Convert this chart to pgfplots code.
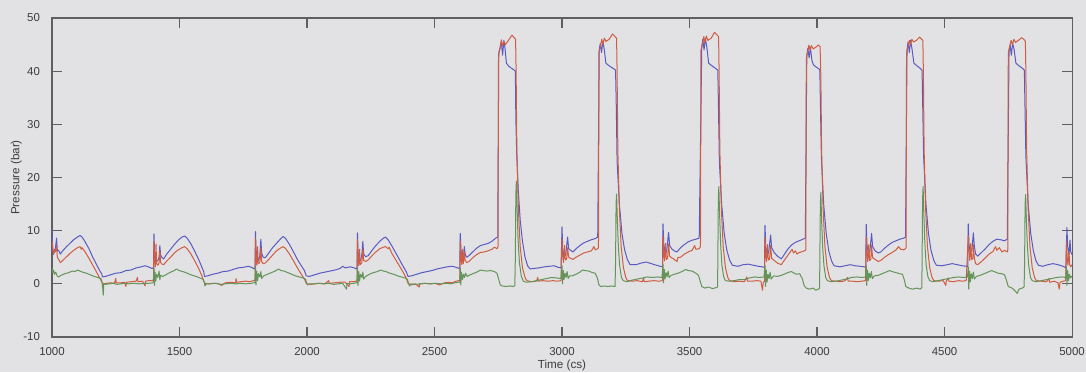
\documentclass[border=0pt]{standalone}
\usepackage{pgfplots}
\pgfplotsset{compat=1.18}
\usepackage{fontspec}
\setmainfont{Liberation Sans}
\definecolor{bggray}{RGB}{226,226,228}
\definecolor{axgray}{RGB}{95,95,95}
\definecolor{txtgray}{RGB}{60,60,60}
\definecolor{pblue}{RGB}{90,90,195}
\definecolor{pred}{RGB}{208,92,66}
\definecolor{pgreen}{RGB}{100,148,90}
\begin{document}
\begin{tikzpicture}
\fill[bggray] (-0.766cm,-0.516cm) rectangle (15.234cm,4.965cm);
\useasboundingbox (-0.766cm,-0.516cm) rectangle (15.234cm,4.965cm);
\begin{axis}[
  at={(0,0)}, anchor=south west,
  scale only axis, width=15.028cm, height=4.70cm,
  xmin=1000, xmax=5000, ymin=-10, ymax=50,
  xtick={1000,1500,...,5000}, ytick={-10,0,...,50},
  tick align=inside, major tick length=4.2pt,
  axis line style={axgray, line width=0.45pt},
  every tick/.style={axgray, line width=0.45pt},
  axis background/.style={fill=bggray},
  /pgf/number format/assume math mode=true,
  /pgf/number format/set thousands separator={},
  tick label style={font=\fontsize{4.8}{5.5}\selectfont, text=txtgray},
  xticklabel style={yshift=-0.8pt},
  yticklabel style={xshift=-1.5pt},
  label style={font=\fontsize{4.9}{5.5}\selectfont, text=txtgray},
  xlabel={Time (cs)}, ylabel={Pressure (bar)},
  xlabel style={at={(axis description cs:0.5,-0.088)}, anchor=center},
  ylabel style={at={(axis description cs:-0.035,0.5)}, anchor=center},
  every axis plot/.append style={line width=0.42pt, line join=round},
]
% inlet pressure
\addplot[pblue] coordinates {
(1000,10.3) (1003,6.0) (1008,5.8) (1013,6.5) (1018,8.6) (1021,6.2) (1026,6.3) (1033,5.6) (1040,6.1) (1055,6.9) (1070,7.6) (1085,8.3) (1100,8.8) (1110,9.1) (1118,8.8) (1130,7.9) (1145,6.6) (1160,5.0) (1175,3.6) (1188,2.4) (1195,1.9) (1198,1.3)
(1210,1.4) (1230,1.7) (1250,2.0) (1270,2.1) (1290,2.5) (1310,2.6) (1330,3.0) (1350,3.2) (1365,3.4) (1378,3.2) (1392,2.9)
(1398,3.0) (1400,9.4) (1402,6.0) (1405,4.8) (1410,4.2) (1416,4.5) (1420,5.0) (1423,7.2) (1426,5.4) (1432,4.9) (1438,4.7) (1450,5.6) (1465,6.5) (1480,7.4) (1495,8.2) (1510,8.8) (1520,9.0) (1530,8.6) (1545,7.5) (1560,6.1) (1575,4.6) (1588,3.1) (1595,2.3) (1598,1.4)
(1610,1.5) (1630,1.8) (1650,2.0) (1670,2.3) (1690,2.4) (1710,2.7) (1730,3.0) (1750,3.1) (1770,3.3) (1783,3.1) (1793,2.8)
(1796,3.0) (1798,9.8) (1800,6.5) (1804,5.0) (1810,4.4) (1815,5.2) (1819,8.4) (1822,5.8) (1828,5.0) (1836,4.9) (1850,5.8) (1865,6.8) (1880,7.6) (1895,8.4) (1906,8.9) (1915,8.6) (1930,7.5) (1945,6.2) (1960,4.8) (1975,3.6) (1990,2.5) (1997,1.5)
(2010,1.4) (2030,1.7) (2050,2.0) (2070,2.2) (2090,2.4) (2110,2.6) (2130,2.9) (2140,3.3) (2150,3.0) (2170,3.2) (2185,3.0) (2193,2.8)
(2196,3.0) (2198,9.6) (2200,6.0) (2204,4.8) (2210,4.4) (2215,5.4) (2219,8.0) (2222,5.6) (2230,5.1) (2240,5.3) (2255,6.3) (2270,7.2) (2285,8.0) (2300,8.6) (2308,8.8) (2318,8.3) (2332,7.2) (2347,5.9) (2362,4.6) (2377,3.3) (2390,2.2) (2396,1.4)
(2410,1.5) (2430,1.8) (2450,2.1) (2470,2.3) (2490,2.5) (2510,2.8) (2530,3.0) (2550,3.2) (2570,3.3) (2585,3.1) (2596,2.9)
(2599,3.1) (2601,9.5) (2604,6.2) (2608,5.0) (2613,4.9) (2617,7.0) (2620,5.6) (2626,5.0) (2635,5.3) (2650,6.0) (2665,6.7) (2680,7.2) (2695,7.4) (2710,7.6) (2725,8.0) (2740,8.6) (2748,8.8)
(2752,43.5) (2756,44.2) (2762,45.5) (2767,43.0) (2772,45.8) (2776,44.5) (2782,41.5) (2790,41.0) (2800,40.6) (2810,40.3) (2817,40.0) (2819,31) (2822,25) (2828,18) (2836,12.0) (2845,8.0) (2855,5.0) (2865,3.4) (2875,2.8)
(2890,2.9) (2910,3.0) (2930,3.2) (2950,3.3) (2970,3.4) (2985,3.1) (2996,3.0)
(3000,10.7) (3003,6.5) (3008,5.2) (3014,5.4) (3022,8.8) (3026,6.6) (3034,6.3) (3043,6.0) (3055,6.6) (3070,7.2) (3085,7.7) (3100,8.0) (3115,8.3) (3130,8.5) (3140,8.8)
(3146,44.0) (3150,45.2) (3155,43.5) (3160,45.6) (3166,44.0) (3172,41.5) (3185,41.0) (3198,40.6) (3210,40.2) (3213,33) (3216,23) (3225,15) (3235,9.5) (3245,6.5) (3256,4.6) (3267,3.6)
(3290,3.6) (3310,3.9) (3330,4.1) (3350,3.8) (3370,3.5) (3385,3.3) (3394,3.2)
(3396,11.3) (3399,7.5) (3404,5.8) (3410,6.0) (3418,9.7) (3422,7.2) (3430,6.6) (3440,6.2) (3451,6.0) (3465,6.8) (3480,7.4) (3495,7.9) (3510,8.2) (3525,8.4) (3538,8.6)
(3548,44.5) (3552,46.0) (3557,44.0) (3562,46.2) (3568,44.5) (3575,41.5) (3588,41.0) (3600,40.6) (3611,40.2) (3614,32) (3617,23) (3626,15) (3636,9.5) (3646,6.4) (3657,4.5) (3668,3.5)
(3690,3.3) (3710,3.6) (3730,3.7) (3750,3.5) (3770,3.3) (3785,3.2) (3794,3.1)
(3796,11.0) (3799,7.0) (3804,5.6) (3810,5.8) (3818,9.2) (3822,6.8) (3832,5.9) (3845,5.2) (3860,4.7) (3870,5.4) (3885,6.5) (3900,7.3) (3915,7.8) (3930,8.1) (3945,8.4) (3954,8.6)
(3960,43.0) (3964,44.3) (3969,42.5) (3974,44.5) (3980,42.0) (3986,41.2) (3996,40.8) (4006,40.5) (4011,40.2) (4014,32) (4017,24) (4026,15) (4036,9.5) (4046,6.2) (4057,4.3) (4067,3.4)
(4090,3.2) (4110,3.4) (4130,3.6) (4150,3.4) (4170,3.3) (4185,3.2) (4191,3.1)
(4193,11.2) (4196,7.2) (4201,5.9) (4207,6.0) (4214,9.5) (4218,7.0) (4228,6.2) (4240,5.8) (4250,6.0) (4265,6.7) (4280,7.3) (4295,7.8) (4310,8.1) (4325,8.4) (4340,8.6) (4347,8.8)
(4353,44.0) (4357,45.5) (4362,43.5) (4367,45.8) (4373,44.0) (4380,41.5) (4392,41.0) (4403,40.6) (4412,40.2) (4415,32) (4418,24) (4427,15) (4437,9.5) (4447,6.3) (4458,4.4) (4468,3.5)
(4490,3.4) (4510,3.6) (4530,3.8) (4550,3.6) (4570,3.4) (4585,3.3) (4591,3.2)
(4593,11.3) (4596,7.4) (4601,6.0) (4607,6.2) (4613,9.6) (4617,7.0) (4622,5.6) (4630,5.2) (4645,5.9) (4660,6.6) (4675,7.4) (4690,8.0) (4705,8.4) (4720,8.3) (4735,8.1) (4746,8.4)
(4753,43.8) (4757,45.0) (4762,43.0) (4767,45.3) (4773,44.0) (4780,41.5) (4792,41.0) (4804,40.6) (4813,40.2) (4816,32) (4819,24) (4828,15) (4838,9.5) (4848,6.3) (4858,4.4) (4868,3.5)
(4885,3.3) (4905,3.6) (4925,3.8) (4945,3.6) (4965,3.3) (4976,3.0)
(4980,10.6) (4983,7.0) (4988,5.5) (4992,8.2) (4995,6.0) (5000,5.5)
};
% chamber pressure
\addplot[pred] coordinates {
(1000,8.0) (1003,6.8) (1006,5.5) (1010,6.5) (1013,6.0) (1018,7.0) (1021,5.0) (1026,4.6) (1033,4.0) (1040,4.3) (1055,5.0) (1070,5.7) (1085,6.3) (1100,6.8) (1110,7.0) (1115,6.5) (1118,6.8) (1130,6.0) (1145,4.8) (1160,3.5) (1175,2.2) (1188,1.0) (1196,0.3) (1200,0.0)
(1215,0.1) (1230,0.2) (1245,0.1) (1250,1.0) (1252,0.2) (1270,0.2) (1285,0.3) (1290,-0.5) (1292,0.3) (1310,0.4) (1330,0.5) (1335,1.2) (1337,0.4) (1355,0.5) (1365,-0.4) (1367,0.5) (1380,0.6) (1394,0.6)
(1398,0.8) (1400,8.0) (1402,5.0) (1405,3.2) (1408,7.5) (1410,3.8) (1416,3.5) (1420,4.0) (1423,6.3) (1426,4.0) (1432,3.7) (1438,3.6) (1450,4.3) (1465,5.0) (1480,5.8) (1495,6.4) (1510,6.8) (1520,7.0) (1530,6.6) (1545,5.6) (1560,4.3) (1575,2.9) (1588,1.5) (1595,0.5) (1600,0.1)
(1615,0.0) (1630,0.1) (1650,0.1) (1665,-0.3) (1680,0.2) (1700,0.3) (1720,0.2) (1722,1.0) (1724,0.3) (1740,0.4) (1760,0.5) (1775,0.4) (1790,0.6)
(1796,0.7) (1798,8.5) (1800,5.6) (1803,3.5) (1806,7.0) (1809,3.8) (1815,4.0) (1819,6.8) (1822,4.2) (1828,3.8) (1836,3.9) (1850,4.6) (1865,5.4) (1880,6.2) (1895,6.7) (1906,7.0) (1915,6.7) (1930,5.7) (1945,4.5) (1960,3.2) (1975,2.0) (1990,0.9) (1998,0.0)
(2015,-0.1) (2030,0.0) (2050,0.1) (2070,0.0) (2085,0.6) (2087,0.1) (2110,0.2) (2130,0.3) (2150,0.3) (2165,-0.5) (2167,0.4) (2180,0.4) (2193,0.5)
(2196,0.6) (2198,8.3) (2200,5.3) (2203,3.4) (2206,6.5) (2209,3.6) (2215,4.0) (2219,6.6) (2222,4.4) (2230,4.2) (2240,4.5) (2255,5.3) (2270,6.0) (2285,6.6) (2300,6.9) (2308,7.0) (2318,6.6) (2322,6.9) (2332,5.8) (2347,4.6) (2362,3.4) (2377,2.2) (2390,1.0) (2396,0.1)
(2410,-0.2) (2425,0.0) (2440,-0.6) (2442,0.0) (2460,0.1) (2480,0.0) (2500,0.1) (2520,-0.2) (2540,0.2) (2555,0.3) (2570,0.2) (2585,0.5) (2595,0.6)
(2599,0.6) (2601,8.0) (2604,5.0) (2607,3.6) (2610,6.5) (2613,3.8) (2617,6.0) (2620,4.4) (2626,4.0) (2635,4.2) (2650,4.9) (2665,5.5) (2680,5.9) (2695,6.0) (2710,6.2) (2725,6.5) (2735,6.9) (2745,6.6)
(2749,7.0) (2751,43.0) (2756,44.0) (2762,45.9) (2767,44.8) (2772,45.5) (2778,45.0) (2790,45.8) (2804,46.8) (2812,46.3) (2818,46.0) (2820,40) (2823,25) (2829,14) (2836,7.0) (2845,3.0) (2855,1.2) (2862,0.6)
(2880,0.4) (2900,0.5) (2905,1.2) (2907,0.5) (2925,0.6) (2945,0.5) (2965,0.6) (2980,0.5) (2996,0.6)
(3000,8.5) (3003,5.5) (3006,4.0) (3010,7.2) (3013,4.5) (3018,4.6) (3022,6.8) (3026,5.0) (3034,4.8) (3043,4.6) (3055,5.0) (3070,5.4) (3085,5.8) (3100,6.0) (3115,6.2) (3125,7.0) (3130,6.4) (3140,6.6)
(3143,6.8) (3145,43.5) (3150,44.5) (3156,46.0) (3160,45.0) (3166,46.2) (3172,45.6) (3185,46.0) (3198,47.0) (3208,46.5) (3214,46.2) (3216,40) (3219,25) (3225,14) (3232,7.0) (3241,3.0) (3250,1.2) (3257,0.6)
(3275,0.5) (3295,0.6) (3315,0.4) (3320,1.1) (3322,0.4) (3340,0.5) (3360,0.6) (3380,0.5) (3394,0.6)
(3396,9.0) (3399,6.0) (3402,4.3) (3406,7.6) (3409,4.6) (3414,4.8) (3418,7.5) (3422,5.2) (3430,4.9) (3440,4.6) (3451,4.2) (3455,5.0) (3465,5.0) (3480,5.6) (3495,6.0) (3510,6.3) (3520,7.2) (3525,6.5) (3538,6.6)
(3543,7.0) (3545,44.0) (3550,45.0) (3556,46.5) (3560,45.4) (3566,46.6) (3572,45.8) (3585,46.2) (3598,47.3) (3608,46.8) (3614,46.5) (3616,40) (3619,25) (3625,14) (3632,7.0) (3641,3.0) (3650,1.2) (3657,0.6)
(3675,0.4) (3695,0.5) (3715,0.4) (3725,1.3) (3727,0.5) (3745,0.5) (3765,0.6) (3780,0.5) (3786,-1.2) (3789,0.2) (3794,0.5)
(3796,8.8) (3799,5.8) (3802,4.2) (3806,7.4) (3809,4.5) (3814,4.6) (3818,7.2) (3822,4.8) (3832,4.4) (3845,3.9) (3860,3.6) (3867,4.1) (3880,5.0) (3892,5.8) (3902,6.5) (3908,5.8) (3915,6.2) (3922,5.6) (3930,5.9) (3945,6.1) (3954,6.3)
(3956,6.5) (3958,42.5) (3963,43.5) (3968,44.9) (3973,44.0) (3978,44.8) (3985,44.2) (3995,44.5) (4005,44.9) (4012,44.6) (4015,39) (4018,25) (4024,14) (4031,7.0) (4040,3.0) (4049,1.2) (4056,0.6)
(4075,0.5) (4095,0.4) (4110,0.6) (4120,1.2) (4122,0.5) (4140,0.5) (4160,0.4) (4175,0.5) (4190,0.6)
(4193,8.8) (4196,5.8) (4199,4.2) (4203,7.4) (4206,4.4) (4211,4.6) (4214,7.2) (4218,4.9) (4228,4.6) (4240,4.2) (4250,4.4) (4265,5.0) (4280,5.5) (4295,5.9) (4310,6.4) (4320,7.0) (4328,6.5) (4340,6.4) (4347,6.6)
(4349,6.8) (4351,43.5) (4356,44.5) (4362,45.8) (4366,45.0) (4372,46.0) (4378,45.5) (4390,45.8) (4402,46.4) (4410,46.0) (4415,45.8) (4417,40) (4420,25) (4426,14) (4433,7.0) (4442,3.0) (4451,1.2) (4458,0.6)
(4475,0.5) (4495,0.6) (4505,-0.3) (4507,0.5) (4515,1.1) (4517,0.5) (4535,0.4) (4555,0.6) (4570,0.5) (4585,0.6)
(4593,9.0) (4596,6.0) (4599,4.4) (4603,7.6) (4606,4.6) (4611,4.7) (4613,7.4) (4617,4.8) (4622,3.8) (4630,3.6) (4645,4.2) (4660,4.9) (4675,5.6) (4690,6.1) (4700,7.0) (4705,6.3) (4715,6.8) (4725,6.0) (4735,6.3) (4746,6.0)
(4748,6.4) (4750,43.5) (4755,44.5) (4761,45.8) (4766,45.0) (4772,46.0) (4778,45.4) (4790,45.8) (4802,46.3) (4811,46.0) (4817,45.6) (4819,40) (4822,25) (4828,14) (4835,7.0) (4844,3.0) (4853,1.2) (4860,0.6)
(4880,0.5) (4900,0.4) (4910,1.0) (4912,0.3) (4930,0.5) (4945,0.2) (4950,-1.0) (4953,0.3) (4965,0.5) (4975,0.6)
(4978,8.0) (4981,5.0) (4984,3.5) (4988,6.0) (4991,3.6) (4995,3.2) (5000,3.6)
};
% outlet pressure
\addplot[pgreen] coordinates {
(1000,3.0) (1003,2.0) (1006,2.6) (1010,1.8) (1015,2.2) (1020,1.5) (1025,1.3) (1035,1.6) (1050,1.9) (1065,2.1) (1080,2.4) (1090,2.3) (1100,2.6) (1110,2.4) (1120,2.2) (1135,2.0) (1150,1.7) (1165,1.4) (1180,1.2) (1192,1.0) (1196,0.4) (1199,-0.8) (1201,-2.1) (1203,0.0) (1210,-0.1)
(1225,0.0) (1240,0.1) (1255,-0.1) (1270,0.0) (1285,0.1) (1300,0.0) (1320,0.1) (1340,0.0) (1360,0.1) (1380,0.1) (1395,0.2)
(1398,0.3) (1400,3.0) (1402,-0.3) (1404,2.2) (1407,0.5) (1410,1.8) (1415,1.2) (1420,2.4) (1423,0.8) (1426,1.6) (1435,1.4) (1450,1.8) (1465,2.2) (1480,2.5) (1488,2.8) (1495,2.6) (1505,2.4) (1520,2.2) (1535,1.9) (1550,1.6) (1565,1.4) (1580,1.1) (1592,0.9) (1597,0.3) (1600,-0.4) (1605,0.0)
(1620,0.0) (1640,0.1) (1660,-0.1) (1680,0.0) (1700,0.1) (1720,0.0) (1740,0.1) (1760,0.0) (1780,0.1) (1793,0.2)
(1796,0.3) (1798,3.2) (1800,-0.2) (1803,2.4) (1806,0.6) (1810,1.9) (1815,1.3) (1819,2.3) (1822,1.0) (1830,1.5) (1845,1.8) (1860,2.1) (1875,2.4) (1888,2.8) (1898,2.5) (1910,2.4) (1925,2.1) (1940,1.8) (1955,1.5) (1970,1.3) (1985,1.1) (1994,0.9) (1998,0.2) (2002,-0.2) (2008,0.0)
(2025,0.0) (2045,0.1) (2065,0.0) (2085,0.1) (2105,-0.1) (2125,0.0) (2140,0.1) (2155,-1.0) (2157,0.1) (2170,0.0) (2182,0.1) (2193,0.2)
(2196,0.3) (2198,3.0) (2200,-0.3) (2203,2.3) (2206,0.5) (2210,1.8) (2215,1.2) (2219,2.2) (2222,0.9) (2230,1.4) (2245,1.8) (2260,2.1) (2275,2.3) (2290,2.6) (2300,2.4) (2310,2.3) (2325,2.0) (2340,1.8) (2355,1.5) (2370,1.3) (2385,1.1) (2394,0.8) (2398,0.1) (2402,-0.4) (2408,0.0)
(2425,-0.1) (2445,0.0) (2465,0.1) (2485,0.0) (2505,0.1) (2525,0.0) (2545,0.1) (2565,0.0) (2580,0.2) (2595,0.3)
(2599,0.3) (2601,3.0) (2603,-0.2) (2606,2.2) (2610,0.8) (2614,1.8) (2618,1.2) (2622,2.0) (2628,1.4) (2640,1.7) (2655,2.0) (2670,2.3) (2680,2.6) (2690,2.5) (2705,2.4) (2720,2.5) (2735,2.3) (2745,2.0) (2752,0.8) (2758,-0.2) (2765,-0.4) (2780,-0.5) (2795,-0.4) (2810,-0.5) (2815,-0.3)
(2817,5.0) (2819,17.0) (2821,19.3) (2824,14.0) (2828,8.0) (2833,4.0) (2840,1.5) (2848,0.5) (2860,0.3)
(2880,0.4) (2900,0.6) (2920,0.8) (2940,1.0) (2960,1.2) (2980,1.1) (2996,1.0)
(3000,3.4) (3002,0.0) (3005,2.5) (3008,0.8) (3012,2.0) (3016,1.2) (3020,2.3) (3024,1.0) (3030,1.5) (3040,1.5) (3055,1.8) (3070,2.2) (3080,2.6) (3090,2.5) (3105,2.4) (3120,2.1) (3130,2.0) (3138,1.2) (3145,-0.2) (3152,-0.5) (3165,-0.4) (3180,-0.5) (3195,-0.4) (3208,-0.5)
(3210,4.0) (3212,15.0) (3214,16.9) (3217,12.0) (3221,7.0) (3226,3.5) (3233,1.2) (3240,0.6) (3255,0.4)
(3275,0.7) (3295,0.9) (3315,1.1) (3335,1.3) (3355,1.2) (3375,1.3) (3392,1.2)
(3396,3.6) (3398,0.2) (3401,2.7) (3404,0.9) (3408,2.1) (3412,1.3) (3416,2.4) (3420,1.2) (3428,1.6) (3440,1.8) (3455,2.0) (3470,2.3) (3485,2.7) (3495,2.5) (3510,2.4) (3525,2.0) (3535,1.6) (3542,0.5) (3548,-0.5) (3560,-0.8) (3575,-0.6) (3590,-0.9) (3605,-0.7) (3610,-0.6)
(3611,4.0) (3613,16.0) (3615,18.3) (3618,13.0) (3622,7.5) (3627,3.5) (3634,1.3) (3641,0.6) (3655,0.5)
(3675,0.6) (3695,0.8) (3715,0.8) (3735,1.1) (3755,1.3) (3775,1.2) (3792,1.3)
(3796,3.4) (3798,-0.5) (3801,2.6) (3804,0.3) (3808,1.8) (3812,1.0) (3816,2.2) (3820,0.9) (3830,1.5) (3845,1.4) (3860,1.6) (3875,1.9) (3890,2.2) (3900,2.3) (3910,2.0) (3920,1.8) (3932,1.9) (3942,1.0) (3950,-0.4) (3958,-0.8) (3970,-1.0) (3985,-0.8) (3995,-1.2) (4005,-1.0) (4010,-0.8)
(4011,4.0) (4013,15.0) (4015,17.2) (4018,12.0) (4022,7.0) (4027,3.5) (4034,1.2) (4041,0.6) (4055,0.4)
(4075,0.5) (4095,0.7) (4115,0.9) (4135,1.2) (4155,1.3) (4175,1.2) (4190,1.3)
(4193,3.4) (4195,-0.3) (4198,2.6) (4201,0.6) (4205,2.0) (4209,1.1) (4213,2.3) (4217,1.0) (4225,1.5) (4240,1.6) (4255,1.9) (4270,2.2) (4285,2.5) (4295,2.3) (4310,2.1) (4325,1.9) (4335,1.8) (4342,0.8) (4348,-0.5) (4360,-0.8) (4375,-1.0) (4390,-0.8) (4405,-1.0) (4411,-0.7)
(4412,4.0) (4414,16.0) (4416,18.3) (4419,13.0) (4423,7.5) (4428,3.5) (4435,1.3) (4442,0.6) (4455,0.4)
(4475,0.6) (4495,0.8) (4515,1.0) (4535,1.2) (4555,1.3) (4575,1.2) (4590,1.3)
(4593,3.2) (4595,-1.0) (4598,2.4) (4601,0.4) (4605,1.9) (4609,1.0) (4613,2.2) (4617,0.9) (4625,1.4) (4640,1.6) (4655,1.9) (4670,2.2) (4685,2.5) (4695,2.3) (4710,2.0) (4725,1.9) (4735,1.7) (4742,0.8) (4750,-0.5) (4765,-0.8) (4778,-1.4) (4785,-1.8) (4792,-1.0) (4805,-0.8) (4812,-0.6)
(4814,4.0) (4816,15.0) (4818,16.8) (4821,12.0) (4825,7.0) (4830,3.5) (4837,1.2) (4844,0.6) (4858,0.4)
(4880,0.6) (4900,0.8) (4920,1.0) (4940,1.2) (4960,1.3) (4975,1.2)
(4978,3.2) (4980,-0.3) (4983,2.5) (4986,0.6) (4990,1.8) (4994,1.1) (5000,1.5)
};
\end{axis}
\end{tikzpicture}
\end{document}
